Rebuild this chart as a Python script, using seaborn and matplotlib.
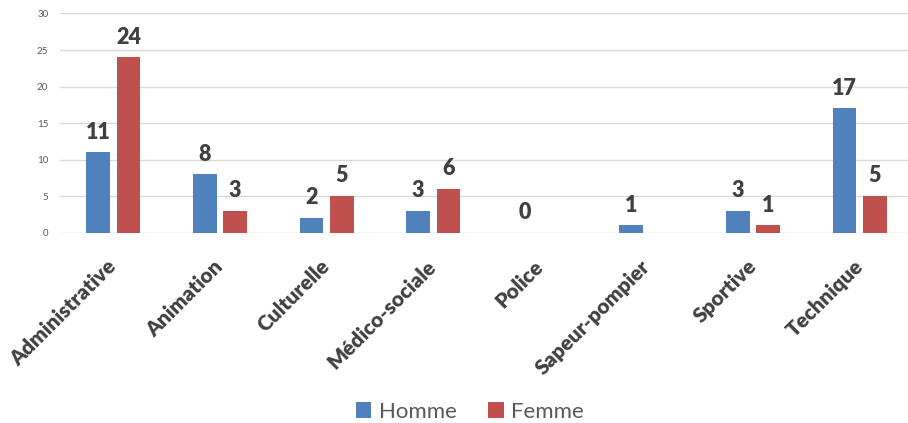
import numpy as np
import pandas as pd
import matplotlib
matplotlib.use("Agg")
import matplotlib.pyplot as plt
import seaborn as sns

categories = ["Administrative", "Animation", "Culturelle", "Médico-sociale",
              "Police", "Sapeur-pompier", "Sportive", "Technique"]
homme = [11, 8, 2, 3, 0, 1, 3, 17]
femme = [24, 3, 5, 6, np.nan, np.nan, 1, 5]
series = ["Homme", "Femme"]
colors = ["#4F81BD", "#C0504D"]
yticks = [0, 5, 10, 15, 20, 25, 30]

sns.set_theme(style="white")
plt.rcParams["font.family"] = ["Lato", "DejaVu Sans"]

df = pd.DataFrame({
    "categorie": categories * 2,
    "sexe": ["Homme"] * len(categories) + ["Femme"] * len(categories),
    "valeur": homme + femme,
}).dropna()

fig = plt.figure(figsize=(9.08, 4.23), dpi=100)
ax = fig.add_axes([60 / 908, 190.3 / 423, 853 / 908, 219.6 / 423])

sns.barplot(data=df, x="categorie", y="valeur", hue="sexe",
            order=categories, hue_order=series, palette=colors,
            width=0.57, gap=0.22, saturation=1, legend=False, ax=ax,
            edgecolor="none")

for cont in ax.containers:
    ax.bar_label(cont, fmt="%g", padding=7, fontsize=15.5, fontweight="heavy",
                 color="#404040")

ax.set_xlim(-0.5, len(categories) - 0.5)
ax.set_ylim(0, 30.05)
ax.set_yticks(yticks)
ax.yaxis.grid(True, color="#D9D9D9", linewidth=1)
ax.set_axisbelow(True)
for s in ax.spines.values():
    s.set_visible(False)
ax.set_xlabel("")
ax.set_ylabel("")

ax.tick_params(axis="y", length=0, pad=8.5, labelsize=7, labelcolor="#595959")
ax.tick_params(axis="x", length=0, pad=22)
ax.set_xticks(range(len(categories)))
ax.set_xticklabels(categories, rotation=45, ha="right", va="center",
                   rotation_mode="anchor", fontsize=15, fontweight="heavy",
                   color="#404040")

handles = [plt.Rectangle((0, 0), 1, 1, facecolor=c, edgecolor="none") for c in colors]
fig.legend(handles, series, loc="center", bbox_to_anchor=(470 / 908, 1 - 412 / 423),
           ncol=2, frameon=False, fontsize=16, labelcolor="#595959",
           handlelength=0.7, handleheight=0.7, handletextpad=0.35,
           columnspacing=1.4, borderpad=0)

fig.savefig("out.png", dpi=100)
